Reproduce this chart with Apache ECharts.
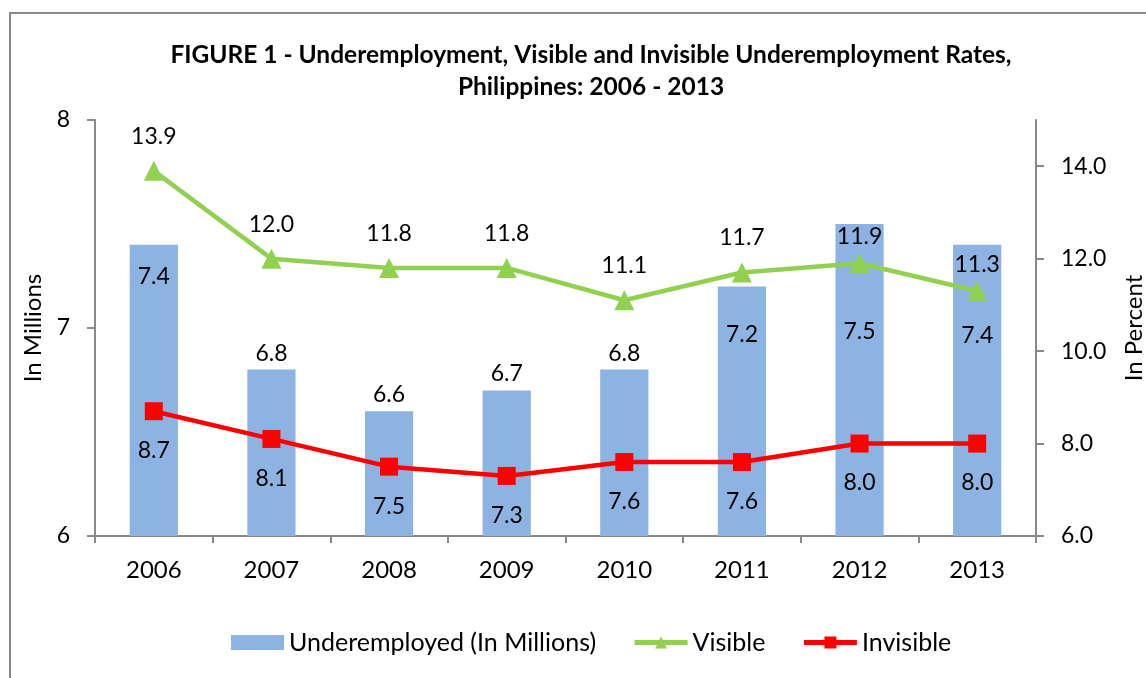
<!DOCTYPE html>
<html>
<head>
<meta charset="utf-8">
<script src="https://cdn.jsdelivr.net/npm/echarts@6/dist/echarts.min.js"></script>
<style>html,body{margin:0;padding:0;background:#fff;}#c{width:1146px;height:678px;}</style>
</head>
<body>
<div id="c"></div>
<script>
const years = ['2006','2007','2008','2009','2010','2011','2012','2013'];
const underemployed = [7.4, 6.8, 6.6, 6.7, 6.8, 7.2, 7.5, 7.4];
const visible = [13.9, 12.0, 11.8, 11.8, 11.1, 11.7, 11.9, 11.3];
const invisible = [8.7, 8.1, 7.5, 7.3, 7.6, 7.6, 8.0, 8.0];
const leftTicks = [6, 7, 8];
const rightTicks = [6, 8, 10, 12, 14];

// label placement styles (pixels), kept apart from the data
const barLabelInside = [true, false, false, false, false, true, true, true];
const barLabelShift = [0, 0, 0, 0, 0, 17, 76, 59];
const visibleLabelShift = [0, 0, 0, 0, 0, 0, 8, 8];
const FONT = 'Lato';

const chart = echarts.init(document.getElementById('c'));
const barData = underemployed.map((v, i) => ({
  value: v,
  label: barLabelInside[i]
    ? { position: 'insideTop', distance: 20, offset: [0, barLabelShift[i]] }
    : { position: 'top', distance: 5 }
}));
const visibleData = visible.map((v, i) => ({ value: v, label: { offset: [0, visibleLabelShift[i]] } }));

chart.setOption({
  animation: false,
  textStyle: { fontFamily: FONT },
  graphic: [{
    type: 'rect', shape: { x: 10, y: 13, width: 1200, height: 700 },
    style: { fill: 'none', stroke: '#888', lineWidth: 2 }, silent: true
  }],
  title: {
    text: 'FIGURE 1 - Underemployment, Visible and Invisible Underemployment Rates,\nPhilippines: 2006 - 2013',
    left: 586, textAlign: 'center', top: 34,
    textStyle: { fontFamily: FONT, fontWeight: 'bold', fontSize: 24.5, lineHeight: 32, color: '#000' }
  },
  legend: {
    bottom: 18, left: 226, itemGap: 36, itemWidth: 53, itemHeight: 15,
    textStyle: { fontFamily: FONT, fontSize: 25, color: '#000' },
    lineStyle: { width: 5 },
    data: [
      { name: 'Underemployed (In Millions)', icon: 'rect' },
      { name: 'Visible' },
      { name: 'Invisible' }
    ]
  },
  grid: { left: 95, right: 110, top: 120, bottom: 142, outerBoundsMode: 'none', containLabel: false },
  xAxis: {
    type: 'category', data: years,
    axisLine: { lineStyle: { color: '#898989', width: 2 } },
    axisTick: { show: true, length: 7, lineStyle: { color: '#898989', width: 2 } },
    axisLabel: { fontFamily: FONT, fontSize: 24, color: '#000', margin: 22 }
  },
  yAxis: [{
    type: 'value', min: leftTicks[0], max: leftTicks[leftTicks.length - 1], interval: 1,
    name: 'In Millions', nameLocation: 'middle', nameGap: 45, nameRotate: 90,
    nameTextStyle: { fontFamily: FONT, fontSize: 24, color: '#000' },
    axisLine: { show: true, lineStyle: { color: '#898989', width: 2 } },
    axisTick: { show: true, length: 8, lineStyle: { color: '#898989', width: 2 } },
    axisLabel: { fontFamily: FONT, fontSize: 23, color: '#000', margin: 25 },
    splitLine: { show: false }
  }, {
    type: 'value', min: rightTicks[0], max: 15, interval: 2,
    name: 'In Percent', nameLocation: 'middle', nameGap: 86, nameRotate: 90,
    nameTextStyle: { fontFamily: FONT, fontSize: 24, color: '#000' },
    axisLine: { show: true, lineStyle: { color: '#898989', width: 2 } },
    axisTick: { show: true, length: 8, lineStyle: { color: '#898989', width: 2 } },
    axisLabel: { fontFamily: FONT, fontSize: 23, color: '#000', margin: 25, showMaxLabel: false,
      formatter: v => v.toFixed(1) },
    splitLine: { show: false }
  }],
  series: [{
    name: 'Underemployed (In Millions)', type: 'bar', yAxisIndex: 0,
    data: barData, barWidth: '41%',
    itemStyle: { color: '#8DB3E2' },
    label: { show: true, fontFamily: FONT, fontSize: 23, color: '#000', formatter: p => p.value.toFixed(1) }
  }, {
    name: 'Visible', type: 'line', yAxisIndex: 1, data: visibleData,
    symbol: 'triangle', symbolSize: 20,
    lineStyle: { color: '#92D050', width: 4.5 }, itemStyle: { color: '#92D050' },
    label: { show: true, position: 'top', distance: 13, fontFamily: FONT, fontSize: 23, color: '#000',
      formatter: p => p.value.toFixed(1) }
  }, {
    name: 'Invisible', type: 'line', yAxisIndex: 1, data: invisible,
    symbol: 'rect', symbolSize: 18,
    lineStyle: { color: '#FF0000', width: 4.5 }, itemStyle: { color: '#FF0000' },
    label: { show: true, position: 'bottom', distance: 19, fontFamily: FONT, fontSize: 23, color: '#000',
      formatter: p => p.value.toFixed(1) }
  }]
});
</script>
</body>
</html>
